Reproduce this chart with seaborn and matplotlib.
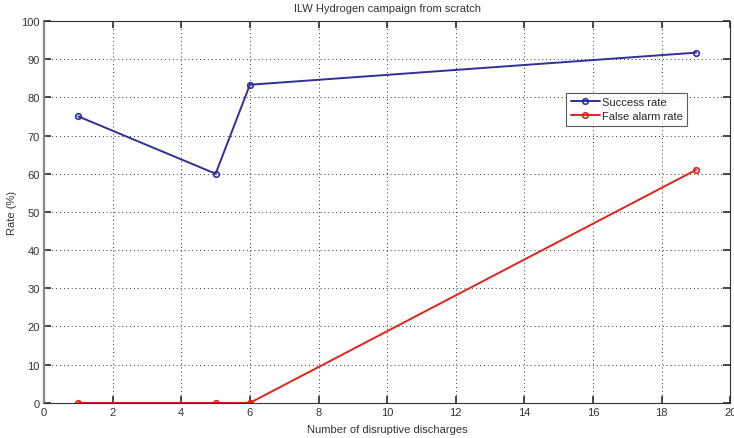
import matplotlib
matplotlib.use("Agg")
import matplotlib.pyplot as plt
import seaborn as sns
import pandas as pd

discharges = [1, 5, 6, 19]
success_rate = [75.0, 60.0, 83.3, 91.7]
false_alarm_rate = [0.0, 0.0, 0.0, 61.0]
series_names = ["Success rate", "False alarm rate"]
x_ticks = [0, 2, 4, 6, 8, 10, 12, 14, 16, 18, 20]
y_ticks = [0, 10, 20, 30, 40, 50, 60, 70, 80, 90, 100]

sns.set_theme(style="white")
plt.rcParams["font.family"] = ["Liberation Sans", "DejaVu Sans"]

df = pd.DataFrame({
    "x": discharges * 2,
    "rate": success_rate + false_alarm_rate,
    "series": [series_names[0]] * len(discharges) + [series_names[1]] * len(discharges),
})

fig = plt.figure(figsize=(7.34, 4.39), dpi=100)
ax = fig.add_axes([0.060, 0.080, 0.935, 0.870])

palette = {series_names[0]: "#2f2f9e", series_names[1]: "#e2231a"}
sns.lineplot(data=df, x="x", y="rate", hue="series", palette=palette,
             marker="o", markersize=4, markerfacecolor="none",
             markeredgewidth=1.2, linewidth=1.4, ax=ax, legend=False)
for line in ax.lines:
    line.set_markeredgecolor(line.get_color())

ax.set_xlim(0, 20)
ax.set_ylim(0, 100)
ax.set_xticks(x_ticks)
ax.set_yticks(y_ticks)
ax.tick_params(direction="in", length=5, labelsize=8, colors="#333333",
               top=True, right=True, bottom=True, left=True, pad=3)
ax.grid(True, linestyle=(0, (1, 3)), color="#333333", linewidth=0.7)
for side, sp in ax.spines.items():
    sp.set_color("#333333")
    sp.set_linewidth(0.8)
ax.spines["left"].set_color("#888888")
ax.spines["left"].set_linewidth(1.6)

ax.set_xlabel("Number of disruptive discharges", fontsize=8, color="#333333", labelpad=5)
ax.set_ylabel("Rate (%)", fontsize=8, color="#333333", labelpad=3)
ax.set_title("ILW Hydrogen campaign from scratch", fontsize=8, color="#333333", pad=7)

handles = [plt.Line2D([], [], color=palette[n], marker="o", markersize=4,
                      markerfacecolor="none", markeredgewidth=1.2, linewidth=1.4)
           for n in series_names]
leg = ax.legend(handles, series_names, loc="upper left", bbox_to_anchor=(0.761, 0.812),
                fontsize=8, frameon=True, fancybox=False, borderpad=0.4,
                handlelength=2.6, handletextpad=0.2, labelspacing=0.35,
                borderaxespad=0)
leg.get_frame().set_edgecolor("#333333")
leg.get_frame().set_linewidth(0.8)

fig.savefig("out.png", dpi=100)
